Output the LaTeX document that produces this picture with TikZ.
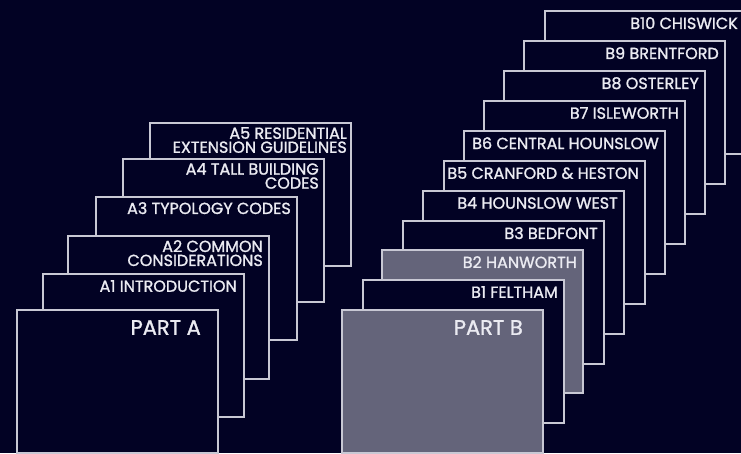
\documentclass[tikz,border=0pt]{standalone}
\usepackage{fontspec}
\setmainfont{Poppins}
\newfontfamily\lblfont{Poppins}[FakeBold=1.3]
\definecolor{bg}{RGB}{2,2,36}
\definecolor{cardgray}{RGB}{100,100,122}
\definecolor{edge}{RGB}{200,200,212}
\definecolor{ink}{RGB}{235,235,242}
\begin{document}
\begin{tikzpicture}[x=1pt,y=1pt,
  card/.style={draw=edge, line width=1.1pt, fill=bg, minimum width=201pt, minimum height=143pt, anchor=north west, inner sep=0pt, outer sep=0pt},
  graycard/.style={card, fill=cardgray},
  lbl/.style={text=ink, font=\lblfont\fontsize{16}{14}\selectfont, anchor=north east, inner sep=0pt, align=right},
  biglbl/.style={lbl, font=\lblfont\fontsize{21}{21}\selectfont}]
\fill[bg] (0,0) rectangle (741,453);
\useasboundingbox (0,0) rectangle (741,453);
\clip (0,0) rectangle (741,453);
% Part A stack
\node[card] (a5) at (150,330) {};
\node[lbl] (a5t) at ([xshift=-4pt,yshift=-4pt]a5.north east) {A5 RESIDENTIAL\\EXTENSION GUIDELINES};
\node[card] (a4) at (123,294) {};
\node[lbl] (a4t) at ([xshift=-5pt,yshift=-4pt]a4.north east) {A4 TALL BUILDING\\CODES};
\node[card] (a3) at (96,256) {};
\node[lbl] (a3t) at ([xshift=-6pt,yshift=-5pt]a3.north east) {A3 TYPOLOGY CODES};
\node[card] (a2) at (68,217) {};
\node[lbl] (a2t) at ([xshift=-6pt,yshift=-4pt]a2.north east) {A2 COMMON\\CONSIDERATIONS};
\node[card] (a1) at (43,179) {};
\node[lbl] (a1t) at ([xshift=-7pt,yshift=-6pt]a1.north east) {A1 INTRODUCTION};
\node[card] (pa) at (17,143) {};
\node[biglbl] (pat) at ([xshift=-17pt,yshift=-10pt]pa.north east) {PART A};
% Part B stack
\node[card] (b10) at (545,442) {};
\node[lbl] (b10t) at ([xshift=-8pt,yshift=-6pt]b10.north east) {B10 CHISWICK};
\node[card] (b9) at (524,412) {};
\node[lbl] (b9t) at ([xshift=-6pt,yshift=-6pt]b9.north east) {B9 BRENTFORD};
\node[card] (b8) at (504,382) {};
\node[lbl] (b8t) at ([xshift=-6pt,yshift=-6pt]b8.north east) {B8 OSTERLEY};
\node[card] (b7) at (484,352) {};
\node[lbl] (b7t) at ([xshift=-6pt,yshift=-6pt]b7.north east) {B7 ISLEWORTH};
\node[card] (b6) at (464,322) {};
\node[lbl] (b6t) at ([xshift=-6pt,yshift=-6pt]b6.north east) {B6 CENTRAL HOUNSLOW};
\node[card] (b5) at (444,292) {};
\node[lbl] (b5t) at ([xshift=-6pt,yshift=-6pt]b5.north east) {B5 CRANFORD \& HESTON};
\node[card] (b4) at (423,262) {};
\node[lbl] (b4t) at ([xshift=-6pt,yshift=-6pt]b4.north east) {B4 HOUNSLOW WEST};
\node[card] (b3) at (403,232) {};
\node[lbl] (b3t) at ([xshift=-6pt,yshift=-6pt]b3.north east) {B3 BEDFONT};
\node[graycard] (b2) at (382,203) {};
\node[lbl] (b2t) at ([xshift=-6pt,yshift=-6pt]b2.north east) {B2 HANWORTH};
\node[card] (b1) at (363,173) {};
\node[lbl] (b1t) at ([xshift=-6pt,yshift=-6pt]b1.north east) {B1 FELTHAM};
\node[graycard] (pb) at (342,143) {};
\node[biglbl] (pbt) at ([xshift=-20pt,yshift=-10pt]pb.north east) {PART B};
\end{tikzpicture}
\end{document}
